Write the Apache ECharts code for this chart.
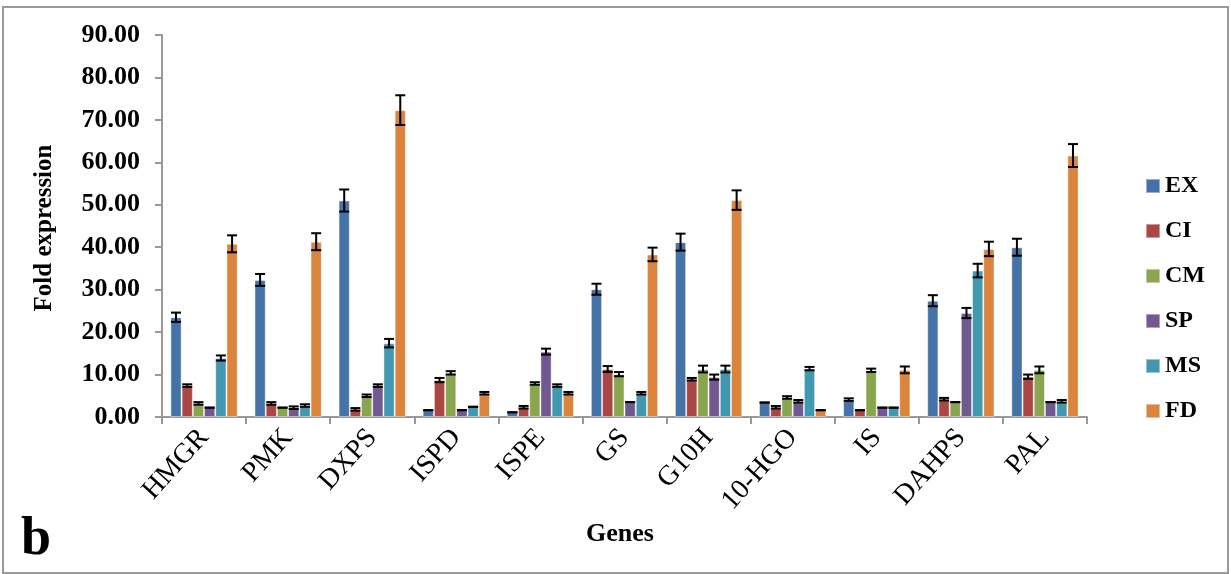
<!DOCTYPE html>
<html>
<head>
<meta charset="utf-8">
<script src="https://cdn.jsdelivr.net/npm/echarts@6/dist/echarts.min.js"></script>
<style>
html,body{margin:0;padding:0;background:#fff;}
#chart{width:1231px;height:574px;}
</style>
</head>
<body>
<div id="chart"></div>
<script>
const categories = ['HMGR','PMK','DXPS','ISPD','ISPE','GS','G10H','10-HGO','IS','DAHPS','PAL'];
const seriesNames = ['EX','CI','CM','SP','MS','FD'];
const EX = [23.5, 32.3, 51.0, 1.6, 1.1, 30.1, 41.2, 3.4, 4.1, 27.4, 40.0];
const CI = [7.4, 3.2, 1.8, 8.7, 2.3, 11.3, 8.9, 2.3, 1.6, 4.2, 9.5];
const CM = [3.2, 2.2, 5.0, 10.4, 7.9, 10.1, 11.3, 4.6, 11.0, 3.5, 11.1];
const SP = [2.2, 2.2, 7.4, 1.6, 15.4, 3.5, 9.4, 3.7, 2.2, 24.5, 3.5];
const MS = [13.9, 2.7, 17.4, 2.4, 7.4, 5.6, 11.3, 11.4, 2.2, 34.5, 3.7];
const FD = [40.8, 41.3, 72.3, 5.6, 5.6, 38.3, 51.1, 1.6, 11.1, 39.6, 61.6];
const EX_err = [1.1, 1.4, 2.6, 0, 0, 1.3, 2.0, 0, 0.3, 1.3, 2.0];
const CI_err = [0.3, 0.3, 0.3, 0.5, 0.3, 0.7, 0.3, 0.3, 0, 0.3, 0.5];
const CM_err = [0.3, 0, 0.3, 0.4, 0.3, 0.5, 0.8, 0.3, 0.4, 0, 0.8];
const SP_err = [0, 0.3, 0.3, 0, 0.7, 0, 0.6, 0.3, 0, 1.2, 0];
const MS_err = [0.6, 0.3, 1.0, 0, 0.3, 0.3, 0.8, 0.4, 0, 1.6, 0.3];
const FD_err = [2.0, 2.0, 3.5, 0.3, 0.3, 1.6, 2.3, 0, 0.8, 1.7, 2.7];
const yTicks = [0, 10, 20, 30, 40, 50, 60, 70, 80, 90];

const values = [EX, CI, CM, SP, MS, FD];
const errors = [EX_err, CI_err, CM_err, SP_err, MS_err, FD_err];
const colors = ['#4572A7', '#AA4643', '#89A54E', '#71588F', '#4198AF', '#DB843D'];
const serif = '"Liberation Serif", "DejaVu Serif", serif';
const nSeries = seriesNames.length;
const catGapRatio = 0.2;

const series = [];
seriesNames.forEach((name, i) => {
  series.push({
    name: name,
    type: 'bar',
    data: values[i],
    barGap: '0%',
    barCategoryGap: (catGapRatio * 100) + '%',
    itemStyle: { color: colors[i], borderColor: 'rgba(255,255,255,0.45)', borderWidth: 1 },
    z: 2
  });
});
seriesNames.forEach((name, i) => {
  series.push({
    name: name,
    type: 'custom',
    z: 5,
    silent: true,
    data: values[i].map((v, k) => [k, v, errors[i][k]]),
    encode: { x: 0, y: 1 },
    renderItem: function (params, api) {
      const k = api.value(0), v = api.value(1), e = api.value(2);
      const bw = api.size([1, 0])[0];
      const barW = bw * (1 - catGapRatio) / nSeries;
      const off = (i - (nSeries - 1) / 2) * barW;
      const top = api.coord([k, v + e]);
      const bot = api.coord([k, v - e]);
      const x = top[0] + off;
      const cap = 5;
      const st = { stroke: '#000', lineWidth: 2 };
      return {
        type: 'group',
        children: [
          { type: 'line', shape: { x1: x, y1: top[1], x2: x, y2: bot[1] }, style: st },
          { type: 'line', shape: { x1: x - cap, y1: top[1], x2: x + cap, y2: top[1] }, style: st },
          { type: 'line', shape: { x1: x - cap, y1: bot[1], x2: x + cap, y2: bot[1] }, style: st }
        ]
      };
    }
  });
});

const chart = echarts.init(document.getElementById('chart'), null, { renderer: 'canvas' });
chart.setOption({
  animation: false,
  backgroundColor: '#fff',
  grid: { left: 162, right: 144, top: 35, bottom: 157, containLabel: false },
  legend: {
    orient: 'vertical',
    left: 1140,
    top: 169,
    itemWidth: 14,
    itemHeight: 14,
    itemGap: 21,
    data: seriesNames,
    icon: 'rect',
    textStyle: { fontFamily: serif, fontWeight: 'bold', fontSize: 24, color: '#000', lineHeight: 24 }
  },
  xAxis: {
    type: 'category',
    data: categories,
    axisLine: { lineStyle: { color: '#999', width: 2 } },
    axisTick: { show: true, alignWithLabel: false, length: 7, lineStyle: { color: '#999', width: 2 } },
    axisLabel: { rotate: 48, margin: 16, fontFamily: serif, fontSize: 28, color: '#000', interval: 0 }
  },
  yAxis: {
    type: 'value',
    min: yTicks[0],
    max: yTicks[yTicks.length - 1],
    interval: yTicks[1] - yTicks[0],
    axisLine: { show: true, lineStyle: { color: '#999', width: 2 } },
    axisTick: { show: true, length: 7, lineStyle: { color: '#999', width: 2 } },
    splitLine: { show: false },
    axisLabel: { margin: 22, fontFamily: serif, fontWeight: 'bold', fontSize: 26, color: '#000',
      formatter: v => v.toFixed(2) }
  },
  graphic: [
    { type: 'rect', shape: { x: 3, y: 7, width: 1225, height: 566 }, style: { fill: 'none', stroke: '#999', lineWidth: 2 }, silent: true, z: 0 },
    { type: 'text', x: 45, y: 228, rotation: Math.PI / 2,
      style: { text: 'Fold expression', fontFamily: serif, fontWeight: 'bold', fontSize: 25, fill: '#000', textAlign: 'center', textVerticalAlign: 'middle' } },
    { type: 'text', x: 620, y: 534,
      style: { text: 'Genes', fontFamily: serif, fontWeight: 'bold', fontSize: 26, fill: '#000', textAlign: 'center', textVerticalAlign: 'middle' } },
    { type: 'text', x: 36, y: 540,
      style: { text: 'b', fontFamily: serif, fontWeight: 'bold', fontSize: 54, fill: '#000', textAlign: 'center', textVerticalAlign: 'middle' } }
  ],
  series: series
});
</script>
</body>
</html>
